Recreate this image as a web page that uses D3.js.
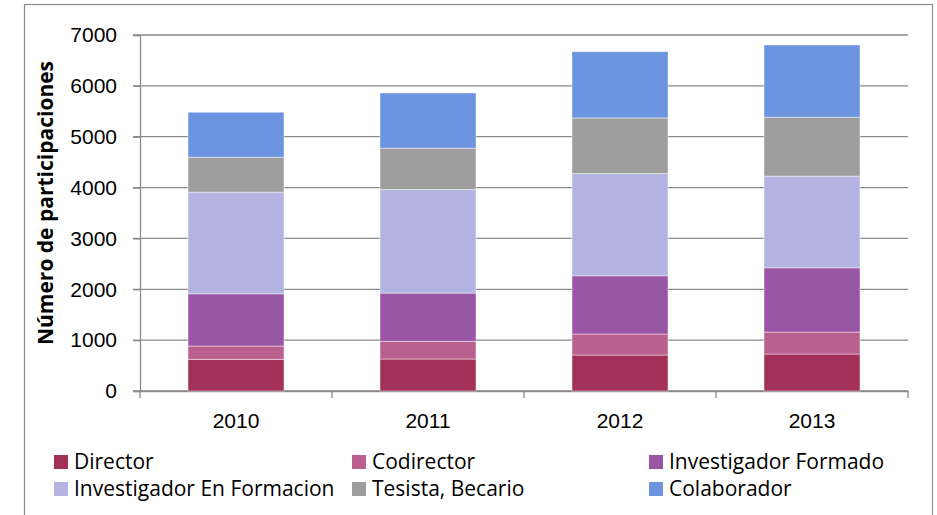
<!DOCTYPE html>
<html>
<head>
<meta charset="utf-8">
<script src="https://cdn.jsdelivr.net/npm/d3@7"></script>
<style>
  body { margin: 0; background: #fff; }
  svg { display: block; font-family: "Open Sans", Lato, sans-serif; }
</style>
</head>
<body>
<div id="chart"></div>
<script>
// Data
const years = ["2010", "2011", "2012", "2013"];
const seriesNames = ["Director", "Codirector", "Investigador Formado",
                     "Investigador En Formacion", "Tesista, Becario", "Colaborador"];
const director      = [622, 629, 707, 727];
const codirector    = [262, 347, 413, 432];
const invFormado    = [1028, 949, 1146, 1264];
const invEnFormacion = [1998, 2037, 2010, 1801];
const tesista       = [687, 812, 1094, 1159];
const colaborador   = [884, 1087, 1303, 1421];
const yTicks = [0, 1000, 2000, 3000, 4000, 5000, 6000, 7000];

const colors = ["#a23058", "#b9608e", "#9856a5", "#b3b4e1", "#9e9e9e", "#6c94e1"];

const seriesValues = [director, codirector, invFormado, invEnFormacion, tesista, colaborador];

// build rows for d3.stack
let rows = years.map(function(y, i) {
    let r = {year: y};
    seriesNames.forEach(function(s, k) { r[s] = seriesValues[k][i]; });
    return r;
});

let W = 937, H = 515;
let margin = {top: 35, right: 29, bottom: 124, left: 140};
let width = W - margin.left - margin.right;
let height = H - margin.top - margin.bottom;
let fs = "21px";

let svg = d3.select("#chart").append("svg")
    .attr("width", W).attr("height", H);

// outer frame
svg.append("rect")
    .attr("x", 24.5).attr("y", 4.5)
    .attr("width", 908).attr("height", 540)
    .attr("fill", "none").attr("stroke", "#8c8c8c").attr("stroke-width", 1.2);

let xScale = d3.scaleBand().domain(years).range([0, width]).paddingInner(0.5).paddingOuter(0.25);
let yScale = d3.scaleLinear().domain([0, 7000]).range([height, 0]);

let g = svg.append("g")
    .attr("transform", "translate(" + margin.left + "," + margin.top + ")");

// gridlines
g.append("g")
    .selectAll("line")
    .data(yTicks)
    .enter().append("line")
    .attr("x1", -7).attr("x2", width)
    .attr("y1", function(d) { return yScale(d); })
    .attr("y2", function(d) { return yScale(d); })
    .attr("stroke", "#8a8a8a").attr("stroke-width", 1.3);

// y axis
let yAxis = g.append("g")
    .call(d3.axisLeft(yScale).tickValues(yTicks).tickFormat(d3.format("d")).tickSize(7).tickPadding(16));
yAxis.select(".domain").attr("stroke", "#8a8a8a").attr("stroke-width", 1.3);
yAxis.selectAll(".tick line").attr("stroke", "#8a8a8a").attr("stroke-width", 1.3);
yAxis.selectAll("text").attr("font-size", fs).attr("fill", "#000");

// x axis with tick marks at band boundaries
let step = xScale.step();
let xAxis = g.append("g")
    .attr("transform", "translate(0," + height + ")")
    .call(d3.axisBottom(xScale).tickSize(0).tickPadding(22));
xAxis.select(".domain").attr("stroke", "#8a8a8a").attr("stroke-width", 1.3);
xAxis.selectAll("text").attr("font-size", fs).attr("fill", "#000");
let bounds = d3.range(years.length + 1).map(function(i) { return i * step; });
xAxis.selectAll(".bound")
    .data(bounds)
    .enter().append("line")
    .attr("class", "bound")
    .attr("x1", function(d) { return d; }).attr("x2", function(d) { return d; })
    .attr("y1", 0).attr("y2", 7)
    .attr("stroke", "#8a8a8a").attr("stroke-width", 1.3);

// stacked bars
let stacked = d3.stack().keys(seriesNames)(rows);
g.selectAll(".layer")
    .data(stacked)
    .enter().append("g")
    .attr("class", "layer")
    .attr("fill", function(d, i) { return colors[i]; })
    .selectAll("rect")
    .data(function(d) { return d; })
    .enter().append("rect")
    .attr("x", function(d) { return xScale(d.data.year); })
    .attr("y", function(d) { return yScale(d[1]); })
    .attr("width", xScale.bandwidth())
    .attr("height", function(d) { return yScale(d[0]) - yScale(d[1]); })
    .attr("stroke", "rgba(255,255,255,0.45)")
    .attr("stroke-width", 1);

// y axis title
svg.append("text")
    .attr("transform", "translate(53," + (margin.top + 168) + ")rotate(-90)")
    .attr("text-anchor", "middle")
    .attr("font-size", fs)
    .attr("font-weight", "bold")
    .text("Número de participaciones");

// legend
let legendX = [54, 352, 649];
let legendY = [455, 482];
let legend = svg.append("g")
    .selectAll("g")
    .data(seriesNames)
    .enter().append("g")
    .attr("transform", function(d, i) {
        return "translate(" + legendX[i % 3] + "," + legendY[Math.floor(i / 3)] + ")";
    });
legend.append("rect")
    .attr("width", 14).attr("height", 14)
    .attr("fill", function(d, i) { return colors[i]; });
legend.append("text")
    .attr("x", 20).attr("y", 14)
    .attr("font-size", fs)
    .text(function(d) { return d; });
</script>
</body>
</html>
